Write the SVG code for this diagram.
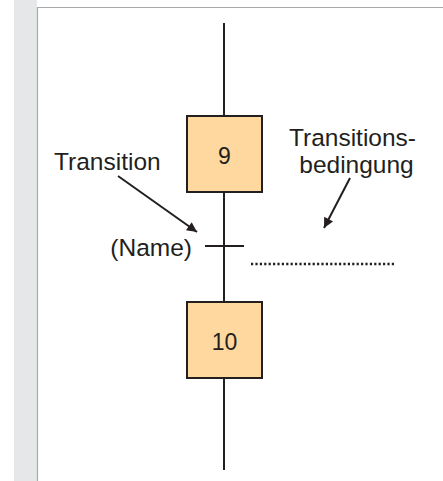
<svg xmlns="http://www.w3.org/2000/svg" width="443" height="481" viewBox="0 0 443 481">
<style>
.lbl{font-family:"Liberation Sans",Arial,sans-serif;font-size:24.5px;fill:#231f20}
.num{font-family:"Liberation Sans",Arial,sans-serif;font-size:23px;fill:#231f20}
.step{fill:#fed89e;stroke:#231f20;stroke-width:2}
.ln{stroke:#231f20;stroke-width:2;fill:none}
</style>
<defs>
<marker id="ah" viewBox="0 0 10 10" refX="10" refY="5" markerWidth="16" markerHeight="10" markerUnits="userSpaceOnUse" orient="auto">
<path d="M0,0 L10,5 L0,10 Z" fill="#231f20"/>
</marker>
</defs>
<rect x="0" y="0" width="443" height="481" fill="#ffffff"/>
<rect x="14" y="0" width="23" height="481" fill="#e6e7e8"/>
<line x1="37.5" y1="7" x2="37.5" y2="481" stroke="#a7a9ac" stroke-width="1.2"/>
<line x1="37" y1="7.5" x2="443" y2="7.5" stroke="#a7a9ac" stroke-width="1.2"/>
<g id="connectors">
<line class="ln" x1="224" y1="23" x2="224" y2="116"/>
<line class="ln" x1="224" y1="192" x2="224" y2="302"/>
<line class="ln" x1="224" y1="378" x2="224" y2="470"/>
<line class="ln" x1="118" y1="176" x2="197" y2="232" marker-end="url(#ah)"/>
<line class="ln" x1="350" y1="178" x2="324" y2="228" marker-end="url(#ah)"/>
</g>
<g id="step9">
<rect class="step" x="187" y="116" width="75" height="76"/>
<text class="num" x="224.5" y="164" text-anchor="middle">9</text>
</g>
<g id="step10">
<rect class="step" x="187" y="302" width="75" height="76"/>
<text class="num" x="224.5" y="350" text-anchor="middle">10</text>
</g>
<g id="transition">
<line class="ln" x1="205" y1="246" x2="244" y2="246"/>
<text class="lbl" x="192" y="256" text-anchor="end">(Name)</text>
<text class="lbl" x="54" y="170">Transition</text>
</g>
<g id="condition">
<text class="lbl" x="352.5" y="146" text-anchor="middle">Transitions-</text>
<text class="lbl" x="356.5" y="173" text-anchor="middle">bedingung</text>
<line x1="251" y1="264" x2="394" y2="264" stroke="#231f20" stroke-width="2.4" stroke-dasharray="2.2 2.2"/>
</g>
</svg>
